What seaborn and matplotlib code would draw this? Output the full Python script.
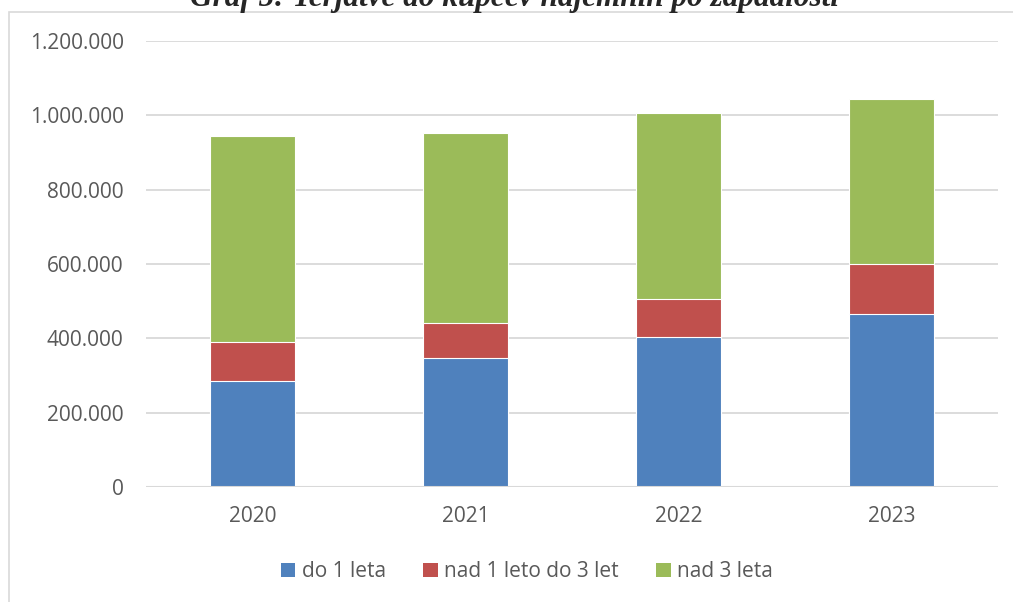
import pandas as pd
import matplotlib
matplotlib.use('Agg')
import matplotlib.pyplot as plt
import seaborn as sns
from matplotlib.patches import Patch, Rectangle
from matplotlib.ticker import FuncFormatter

# podatki (odčitani z grafa)
leta = ['2020', '2021', '2022', '2023']
do_1_leta = [286000, 346000, 404000, 465000]
nad_1_do_3 = [105000, 94000, 103000, 135000]
nad_3_leta = [553000, 513000, 500000, 445000]
serije = ['do 1 leta', 'nad 1 leto do 3 let', 'nad 3 leta']
barve = ['#4F81BD', '#C0504D', '#9BBB59']
naslov = 'Graf 5: Terjatve do kupcev najemnin po zapadlosti'

df = pd.DataFrame({'leto': leta, serije[0]: do_1_leta,
                   serije[1]: nad_1_do_3, serije[2]: nad_3_leta})
# kumulativne vsote za zlaganje
kum = df[serije].cumsum(axis=1)
kum['leto'] = df['leto']

sns.set_theme(style='white')
plt.rcParams['font.family'] = ['Open Sans', 'DejaVu Sans']

fig = plt.figure(figsize=(10.13, 6.02), dpi=100)
ax = fig.add_axes([0.144, 0.191, 0.841, 0.741])

# okvir grafa
fig.patches.append(Rectangle((0.009, -0.05), 1.2, 1.03, transform=fig.transFigure,
                             fill=False, edgecolor='#D9D9D9', linewidth=1.2))

# od zgoraj navzdol, da se stolpci prekrivajo
for s, c in zip(serije[::-1], barve[::-1]):
    sns.barplot(data=kum, x='leto', y=s, color=c, width=0.4, ax=ax,
                edgecolor='white', linewidth=0.8, saturation=1, zorder=3)

ax.set_ylim(0, 1200000)
ax.set_yticks(range(0, 1200001, 200000))
ax.yaxis.set_major_formatter(FuncFormatter(lambda v, p: f'{int(v):,}'.replace(',', '.')))
ax.set_xlim(-0.5, 3.5)
ax.grid(axis='y', color='#D9D9D9', linewidth=1.3, zorder=0)
ax.set_axisbelow(True)
for sp in ax.spines.values():
    sp.set_visible(False)
ax.axhline(0, color='#D9D9D9', linewidth=1.5, zorder=4)
ax.set_xlabel('')
ax.set_ylabel('')
ax.tick_params(axis='both', length=0, labelsize=15, labelcolor='#595959')
ax.tick_params(axis='y', pad=16)
ax.tick_params(axis='x', pad=14)

# naslov je v izvirniku odrezan na vrhu
fig.text(0.508, 0.990, naslov, ha='center', va='baseline', fontsize=22.5,
         fontweight='bold', fontstyle='italic', family=['Liberation Serif', 'DejaVu Serif'])

ročke = [Patch(facecolor=c, edgecolor='none') for c in barve]
fig.legend(ročke, serije, loc='center', bbox_to_anchor=(0.52, 0.05), ncol=3,
           frameon=False, fontsize=15, labelcolor='#595959', handlelength=0.7,
           handleheight=0.7, handletextpad=0.3, columnspacing=1.8)

fig.savefig('out.png', dpi=100)
